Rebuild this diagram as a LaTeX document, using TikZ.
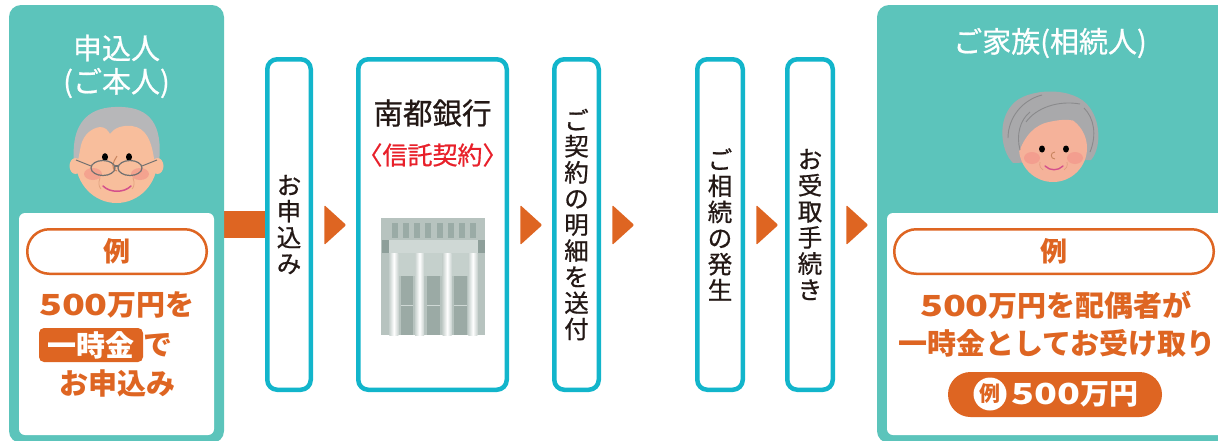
\documentclass[tikz,border=0pt]{standalone}
\usepackage{fontspec}
\setmainfont{Noto Sans CJK JP}
\newfontfamily\jpmed{Noto Sans CJK JP}[FakeBold=0.7]
\usetikzlibrary{calc}

\definecolor{panelteal}{HTML}{5CC4BB}
\definecolor{stepline}{HTML}{12B5CB}
\definecolor{accent}{HTML}{DE6522}
\definecolor{ink}{HTML}{231815}
\definecolor{trustred}{HTML}{E8202A}
\definecolor{skin}{HTML}{F8BE9C}
\definecolor{skinw}{HTML}{F5B29A}
\definecolor{hairgrey}{HTML}{B7B7B9}
\definecolor{hairgreyw}{HTML}{A9A9AB}
\definecolor{strand}{HTML}{8A8A8C}
\definecolor{cheek}{HTML}{F28E86}
\definecolor{lips}{HTML}{D4508C}
\definecolor{nosebrown}{HTML}{C8845E}
\definecolor{glassrim}{HTML}{707070}
\definecolor{bldbody}{HTML}{B7C3BF}
\definecolor{bldslot}{HTML}{9AABA6}
\definecolor{bldband}{HTML}{CFD8D5}
\definecolor{bldcap}{HTML}{8E9F9A}
\definecolor{bldwin}{HTML}{9BAAA5}
\definecolor{bldcolside}{HTML}{C9D2CF}

\newcommand\fsz[1]{\fontsize{#1}{#1}\selectfont}
\newcommand\widenum[1]{\scalebox{1.3}[1]{#1}}

\pgfdeclarelayer{under}
\pgfsetlayers{under,main}

\tikzset{
  panel/.style={fill=panelteal, rounded corners=12pt},
  whitebox/.style={fill=white, rounded corners=6pt},
  title/.style={text=white, font=\jpmed\fsz{29}},
  stepbox/.style={draw=stepline, line width=4.5pt, fill=white, rounded corners=10pt,
    align=center, text=ink, font=\jpmed\fontsize{24.5}{26.1}\selectfont},
  bar/.style={draw=accent, line width=27pt},
  tagpill/.style={draw=accent, line width=2.5pt, fill=white, rounded corners=22pt,
    text=accent, font=\bfseries\fsz{27}},
  note/.style={text=accent, font=\bfseries\fsz{29}},
  lumppill/.style={fill=accent, rounded corners=5pt, text=white, font=\bfseries\fsz{29}},
  amountpill/.style={fill=accent, rounded corners=22.5pt},
  pics/tri/.style={code={\fill[accent, rounded corners=1.2pt] (-11,-20) -- (11,0) -- (-11,20) -- cycle;}}
}

\begin{document}
\begin{tikzpicture}[x=1pt, y=-1pt, every node/.style={inner sep=0pt, outer sep=0pt}]
\useasboundingbox (0,0) rectangle (1218,440);

% side panels
\node[panel, minimum width=215pt, minimum height=438pt] (lp) at (116.5,224) {};
\node[panel, minimum width=360pt, minimum height=438pt] (rp) at (1057,224) {};
\node[whitebox, minimum width=195pt, minimum height=222pt] (lw) at (116.5,324) {};
\node[whitebox, minimum width=345pt, minimum height=222pt] (rw) at (1059.5,324) {};

\node[title] (lt1) at (116.5,48) {申込人};
\node[title] (lt2) at (116.5,83) {(ご本人)};
\node[title] (rt) at (1050,43) {ご家族(相続人)};

% process steps
\node[stepbox, minimum width=43.5pt, minimum height=330.5pt] (b1) at (289,224.5) {お\\申\\込\\み};
\node[stepbox, minimum width=148.5pt, minimum height=330.5pt] (bank) at (432.5,224.5) {};
\node[stepbox, minimum width=44.5pt, minimum height=330.5pt] (b3) at (576.5,224.5) {ご\\契\\約\\の\\明\\細\\を\\送\\付};
\node[stepbox, minimum width=45.5pt, minimum height=330.5pt] (b4) at (720,224.5) {ご\\相\\続\\の\\発\\生};
\node[stepbox, minimum width=45.5pt, minimum height=330.5pt] (b5) at (810,224.5) {お\\受\\取\\手\\続\\き};

\begin{pgfonlayer}{under}
  \draw[bar] (lp.east) -- (lp.east -| b1.west);
\end{pgfonlayer}

\coordinate (a1) at ($(b1.east)+(24.5,0.5)$);
\coordinate (a2) at ($(bank.east)+(24.5,0.5)$);
\coordinate (a3) at ($(b3.east)+(24.5,0.5)$);
\coordinate (a4) at ($(b4.east)+(24.5,0.5)$);
\coordinate (a5) at ($(b5.east)+(24.5,0.5)$);
\foreach \a in {a1,a2,a3,a4,a5} \pic at (\a) {tri};

% bank
\node[text=ink, font=\jpmed\fsz{29.5}] (bname) at ($(bank.north)+(0,53.75)$) {南都銀行};
\node[text=trustred, font=\jpmed\fsz{25}] (btype) at ($(bank.north)+(0,95.75)$) {〈信託契約〉};

\begin{scope}[shift={($(bank.north)+(-51.5,158.75)$)}]
  \fill[bldbody] (0,0) rectangle (104,117);
  \foreach \i in {0,...,7} \fill[bldslot] (11+\i*11.14,5) rectangle ++(6,15);
  \fill[bldband] (8,22) rectangle (97,35);
  \fill[bldcap] (1,22) rectangle (8,35);
  \fill[bldcap] (97,22) rectangle (104,35);
  \fill[bldband!60!bldbody] (8,35) rectangle (97,58);
  \foreach \c in {8.3,34,61.7,87.3}
    \shade[left color=bldcolside, right color=bldcolside, middle color=white] (\c,35) rectangle ++(9,82);
  \foreach \w in {20,46.3,73.3} {
    \fill[bldwin] (\w,57.7) rectangle ++(12.3,59.3);
    \fill[bldband] (\w,86.5) rectangle ++(12.3,1.6);
  }
\end{scope}

% applicant face
\fill[hairgrey] (74,162) .. controls (70,112) and (100,106) .. (122,107)
  .. controls (150,108) and (163,125) .. (159,162) -- cycle;
\begin{scope}
  \clip (116.5,160) ellipse [x radius=41pt, y radius=43pt];
  \fill[skin] (77,166) -- (81,145) .. controls (84,134) and (92,128) .. (100,127)
    .. controls (106,127) and (108,131) .. (110,134)
    .. controls (114,128) and (122,125) .. (132,126)
    .. controls (145,128) and (152,138) .. (155,166) -- (162,210) -- (70,210) -- cycle;
\end{scope}
\fill[skin] (75.5,166) ellipse [x radius=6pt, y radius=8pt];
\fill[skin] (157.5,166) ellipse [x radius=6pt, y radius=8pt];
\fill[cheek, opacity=0.55] (93,174) ellipse [x radius=9pt, y radius=6pt];
\fill[cheek, opacity=0.55] (140,174) ellipse [x radius=9pt, y radius=6pt];
\fill[black] (105,157) ellipse [x radius=3pt, y radius=3.8pt];
\fill[black] (129,157) ellipse [x radius=3pt, y radius=3.8pt];
\draw[nosebrown, line width=1pt] (117,156) .. controls (113,162) and (110,169) .. (117,171);
\draw[glassrim, line width=1.2pt] (103,168) ellipse [x radius=12pt, y radius=7.5pt];
\draw[glassrim, line width=1.2pt] (130,168) ellipse [x radius=12pt, y radius=7.5pt];
\draw[glassrim, line width=1.2pt] (115,166) -- (118,166);
\draw[glassrim, line width=1pt] (91,166) -- (76,160);
\draw[glassrim, line width=1pt] (142,166) -- (157,160);
\draw[nosebrown, opacity=0.45, line width=0.8pt] (100,178) .. controls (98,183) and (99,187) .. (101,189);
\draw[nosebrown, opacity=0.45, line width=0.8pt] (133,178) .. controls (135,183) and (134,187) .. (132,189);
\draw[lips, line width=1.5pt, line cap=round] (103,186) .. controls (110,193) and (124,193) .. (131,186);

% heir face
\fill[hairgreyw] (1013,163) .. controls (1000,150) and (998,120) .. (1012,105)
  .. controls (1025,88) and (1075,85) .. (1090,108)
  .. controls (1102,125) and (1100,150) .. (1091,160) -- cycle;
\begin{scope}
  \clip (1053,148) circle (34pt);
  \fill[skinw] (1016,162) .. controls (1021,142) and (1030,128) .. (1045,123)
    .. controls (1060,119) and (1078,117) .. (1085,128)
    .. controls (1089,135) and (1089,145) .. (1089,152) -- (1095,190) -- (1010,190) -- cycle;
\end{scope}
\draw[strand, line width=0.9pt] (1008,138) .. controls (1008,118) and (1022,100) .. (1042,95);
\draw[strand, line width=0.9pt] (1026,122) .. controls (1036,108) and (1058,100) .. (1080,104);
\draw[strand, line width=0.9pt] (1090,152) .. controls (1097,135) and (1094,118) .. (1084,108);
\draw[strand, line width=0.9pt] (1020,150) .. controls (1016,135) and (1020,120) .. (1030,112);
\fill[cheek, opacity=0.55] (1032,158) ellipse [x radius=8pt, y radius=6pt];
\fill[cheek, opacity=0.55] (1075,158) ellipse [x radius=8pt, y radius=6pt];
\fill[black] (1042,149) ellipse [x radius=3pt, y radius=3.5pt];
\fill[black] (1066,149) ellipse [x radius=3pt, y radius=3.5pt];
\draw[nosebrown, line width=0.9pt] (1055,152) .. controls (1050,152) and (1050,159) .. (1055,159);
\draw[nosebrown, opacity=0.45, line width=0.7pt] (1040,162) .. controls (1039,166) and (1041,169) .. (1043,170);
\draw[nosebrown, opacity=0.45, line width=0.7pt] (1067,162) .. controls (1068,166) and (1066,169) .. (1064,170);
\draw[lips, line width=1.4pt, line cap=round] (1045,166) .. controls (1050,171) and (1058,171) .. (1063,166);

% applicant example
\node[tagpill, minimum width=179.5pt, minimum height=44.5pt] (lex) at (117,251.5) {例};
\node[note] (lamt) at (117,305) {\widenum{500}万円を};
\node[lumppill, minimum width=104pt, minimum height=34pt] (lump) at (91,345) {一時金};
\node[note] (lde) at (158,345) {で};
\node[note] (lapply) at (117,383) {お申込み};

% heir example
\node[tagpill, minimum width=319.5pt, minimum height=44.5pt] (rex) at (1054,251.5) {例};
\node[note] (ramt) at (1056,305) {\widenum{500}万円を配偶者が};
\node[note] (rrecv) at (1057,343) {一時金としてお受け取り};
\node[amountpill, minimum width=214pt, minimum height=45pt] (rsum) at (1055,394.5) {};
\node[circle, fill=white, minimum size=33pt, text=accent, font=\bfseries\fsz{21}] (rsumtag) at ($(rsum.west)+(42,-0.5)$) {例};
\node[text=white, font=\bfseries\fsz{29}] (rsumval) at ($(rsum.center)+(20,0)$) {\widenum{500}万円};
\end{tikzpicture}
\end{document}
